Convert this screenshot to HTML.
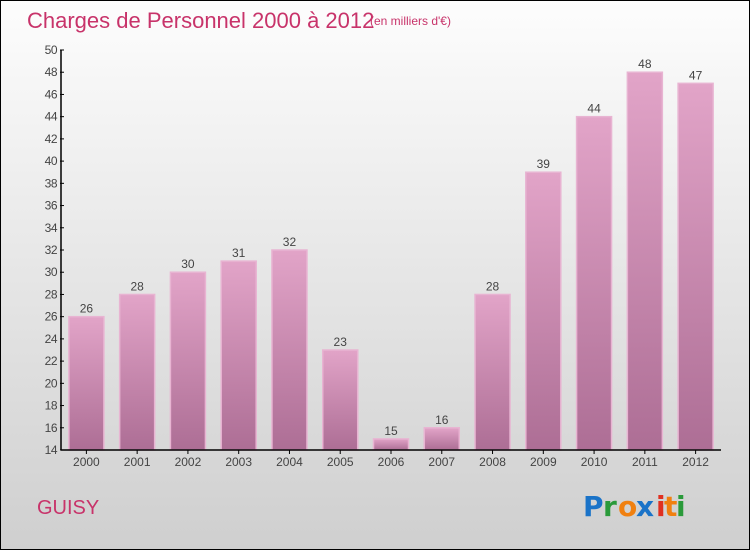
<!DOCTYPE html>
<html><head><meta charset="utf-8"><style>
body{margin:0;width:750px;height:550px;overflow:hidden;font-family:"Liberation Sans",sans-serif}
</style></head><body>
<svg width="750" height="550" xmlns="http://www.w3.org/2000/svg">
<defs>
<linearGradient id="bg" x1="0" y1="0" x2="0" y2="1"><stop offset="0" stop-color="#fdfdfd"/><stop offset="1" stop-color="#cfcfcf"/></linearGradient>
<linearGradient id="bar" x1="0" y1="0" x2="0" y2="1"><stop offset="0" stop-color="#e2a4c8"/><stop offset="1" stop-color="#ad6e95"/></linearGradient>
</defs>
<rect x="0.5" y="0.5" width="749" height="549" fill="url(#bg)" stroke="#000"/>
<text x="27" y="28" font-size="22" fill="#c8336a">Charges de Personnel 2000 à 2012</text>
<text x="370" y="25" font-size="12" fill="#c8336a">(en milliers d'€)</text>
<g id="plot"></g>
<text x="37" y="514" font-size="20" fill="#c8336a">GUISY</text>
<g font-size="28" font-weight="bold" font-family="'DejaVu Sans',sans-serif">
<text x="583" y="516" fill="#1a73c8">P</text><text x="603" y="516" fill="#2a9a3a">r</text><text x="618" y="516" fill="#f08010">o</text><text x="636" y="516" fill="#1a73c8">x</text><text x="656" y="516" fill="#e03020">i</text><text x="664" y="516" fill="#f08010">t</text><text x="676" y="516" fill="#2a9a3a">i</text>
</g>
</svg>
<script>
const categories=["2000","2001","2002","2003","2004","2005","2006","2007","2008","2009","2010","2011","2012"];
const values=[26,28,30,31,32,23,15,16,28,39,44,48,47];
const yTicks=[14,16,18,20,22,24,26,28,30,32,34,36,38,40,42,44,46,48,50];
const NS="http://www.w3.org/2000/svg";
const g=document.getElementById('plot');
const x0=61,x1=721,yb=450,yt=50,ymin=14,ymax=50;
const step=(x1-x0)/categories.length;
function y(v){return yb-(v-ymin)/(ymax-ymin)*(yb-yt);}
function xc(i){return x0+step*(i+0.5);}
function mk(t,a,txt){const e=document.createElementNS(NS,t);for(const k in a)e.setAttribute(k,a[k]);if(txt!==undefined)e.textContent=txt;g.appendChild(e);return e;}
categories.forEach((c,i)=>{
 const b=mk('rect',{x:xc(i)-17.5,y:y(values[i]),width:35,height:yb-y(values[i]),fill:'url(#bar)',stroke:'#e8b4d2','stroke-width':1.5});
 
 
 const l=mk('text',{x:xc(i),y:y(values[i])-4,'font-size':12,fill:'#444','text-anchor':'middle'},values[i]);
 
 
 const t=mk('text',{x:xc(i),y:466,'font-size':12,fill:'#444','text-anchor':'middle'},c);
 
 
 const tk=mk('line',{x1:xc(i),x2:xc(i),y1:yb,y2:yb+4,stroke:'#000'});
 
 
});
yTicks.forEach(v=>{
 const t=mk('text',{x:57,y:y(v)+4,'font-size':12,fill:'#444','text-anchor':'end','letter-spacing':'-0.5'},v);
 
 
 const tk=mk('line',{x1:x0-1,x2:x0+3,y1:y(v),y2:y(v),stroke:'#000'});
 
 
});
const ya=mk('line',{x1:x0,x2:x0,y1:yt,y2:yb,stroke:'#000','stroke-width':1.5});


const xa=mk('line',{x1:x0,x2:x1,y1:yb,y2:yb,stroke:'#000','stroke-width':1.5});


</script>
</body></html>
